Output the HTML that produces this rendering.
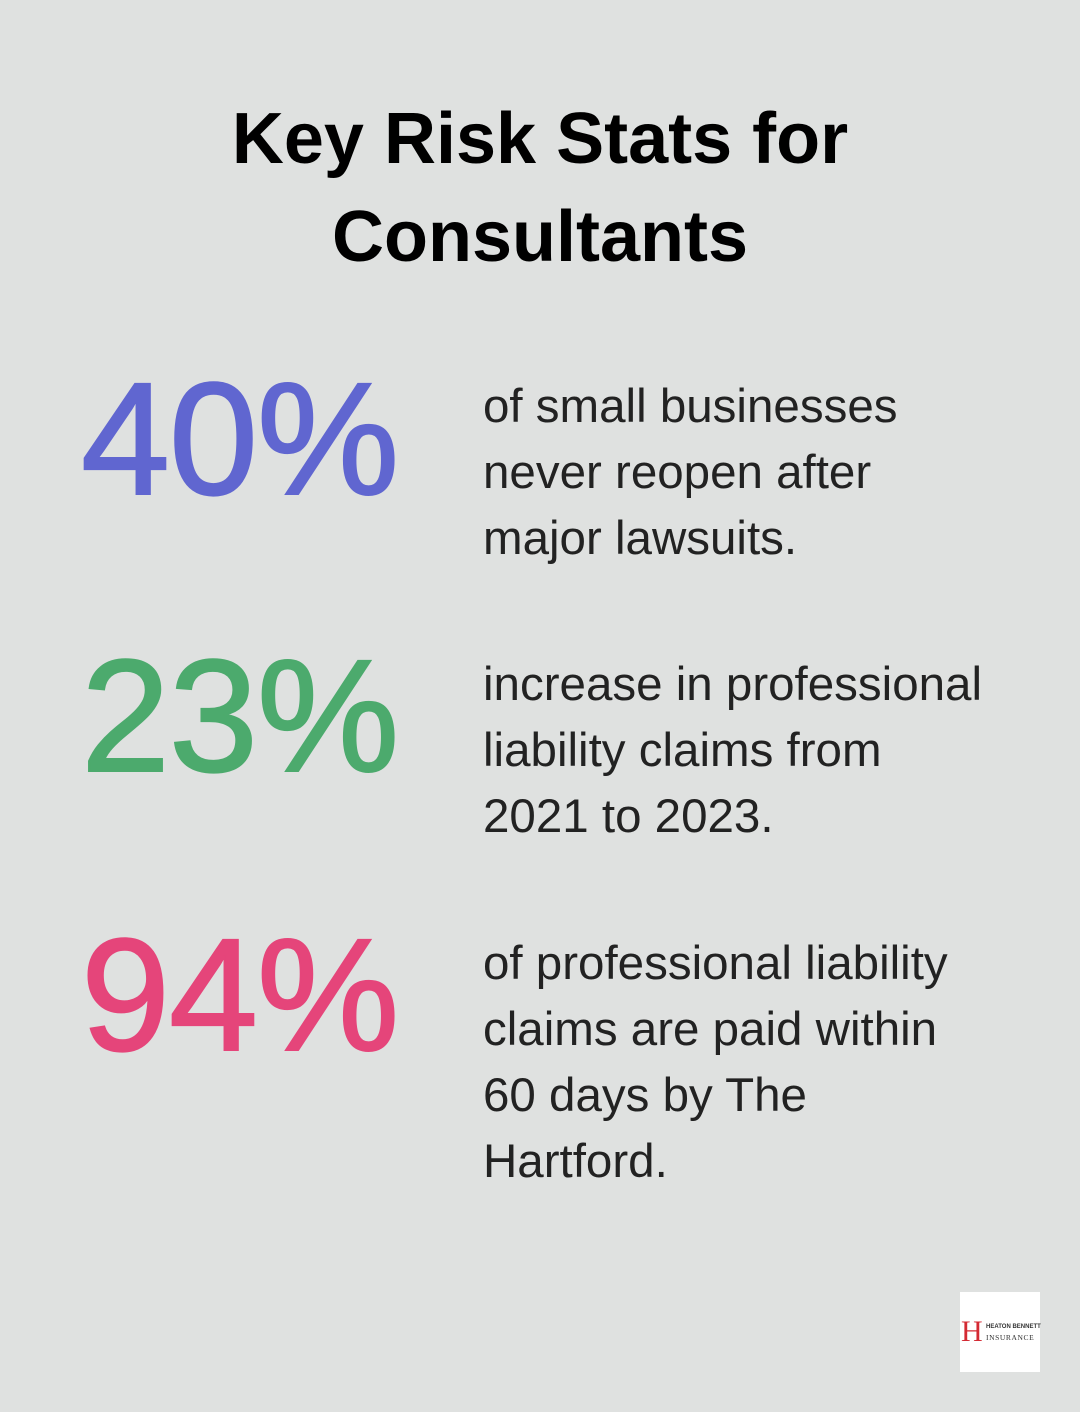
<!DOCTYPE html>
<html><head><meta charset="utf-8"><style>
body{margin:0;width:1080px;height:1412px;background:#dfe1e0;position:relative;overflow:hidden;font-family:"Liberation Sans",sans-serif;}
.t{position:absolute;left:0;width:1080px;text-align:center;font-weight:bold;font-size:72px;line-height:98px;top:90px;color:#000;}
.n{position:absolute;left:81px;font-size:160px;line-height:1;letter-spacing:-1px;-webkit-text-stroke:2px;}
.d{position:absolute;left:483px;font-size:47.5px;line-height:66px;color:#222;}
</style></head><body>
<div class="t">Key Risk Stats for<br>Consultants</div>
<div class="n" style="top:359px;color:#6066d0">40%</div>
<div class="d" style="top:374px">of small businesses<br>never reopen after<br>major lawsuits.</div>
<div class="n" style="top:636px;color:#4caa6d">23%</div>
<div class="d" style="top:652px">increase in professional<br>liability claims from<br>2021 to 2023.</div>
<div class="n" style="top:915px;color:#e5457a">94%</div>
<div class="d" style="top:931px">of professional liability<br>claims are paid within<br>60 days by The<br>Hartford.</div>
<div style="position:absolute;left:960px;top:1292px;width:80px;height:80px;background:#fff;">
<div style="position:absolute;left:1px;top:25px;font-family:'Liberation Serif',serif;font-size:30px;color:#d42a33;line-height:30px;">H</div>
<div style="position:absolute;left:26px;top:32px;font-size:6px;font-weight:bold;color:#333;white-space:nowrap;">HEATON BENNETT</div>
<div style="position:absolute;left:26px;top:41px;font-family:'Liberation Serif',serif;font-size:7.5px;color:#333;letter-spacing:0.6px;white-space:nowrap;">INSURANCE</div>
</div>
</body></html>
